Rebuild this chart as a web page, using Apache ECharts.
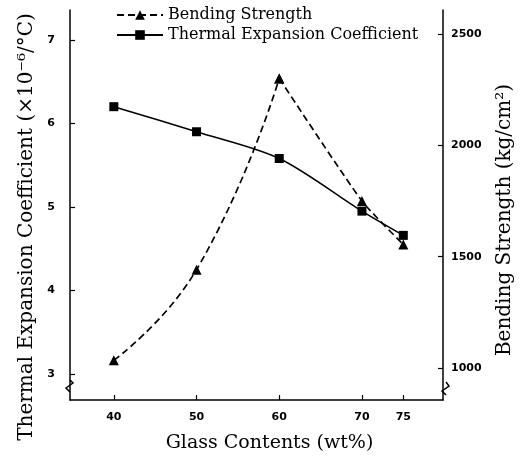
<!DOCTYPE html>
<html>
<head>
<meta charset="utf-8">
<script src="https://cdn.jsdelivr.net/npm/echarts@6/dist/echarts.min.js"></script>
<style>html,body{margin:0;padding:0;background:#fff}#c{width:523px;height:458px}</style>
</head>
<body>
<div id="c"></div>
<script>
// Data
var glassContents = [40, 50, 60, 70, 75];
var thermalExpansion = [6.20, 5.90, 5.58, 4.95, 4.66];
var bendingStrength = [1035, 1442, 2300, 1750, 1555];
var xTickValues = [40, 50, 60, 70, 75];
var leftTickValues = [3, 4, 5, 6, 7];
var rightTickValues = [1000, 1500, 2000, 2500];

var GL = 70, GR = 77, GT = 10, GB = 56;
var serif = '"DejaVu Serif", "Liberation Serif", serif';
var tickFont = {fontFamily: '"DejaVu Sans", sans-serif', fontSize: 11, fontWeight: 'bold', color: '#000'};

function pairs(xs, ys, from, to) {
  var out = [];
  for (var i = from; i <= to; i++) out.push([xs[i], ys[i]]);
  return out;
}

var chart = echarts.init(document.getElementById('c'));
chart.setOption({
  animation: false,
  backgroundColor: '#fff',
  grid: {left: GL, right: GR, top: GT, bottom: GB, containLabel: false},
  legend: {
    orient: 'vertical', left: 111, top: 2,
    itemWidth: 46, itemHeight: 12, itemGap: 4,
    data: ['Bending Strength', 'Thermal Expansion Coefficient'],
    textStyle: {fontFamily: serif, fontSize: 16, color: '#000'}
  },
  xAxis: {
    type: 'value', min: 34.7, max: 79.8,
    name: 'Glass Contents (wt%)', nameLocation: 'middle', nameGap: 34,
    nameTextStyle: {fontFamily: serif, fontSize: 19, color: '#000', padding: [0, 0, 0, 26]},
    axisLine: {lineStyle: {color: '#000', width: 1.5}},
    axisTick: {inside: true, length: 5, customValues: xTickValues, lineStyle: {color: '#000', width: 1.2}},
    axisLabel: {customValues: xTickValues, margin: 12, ...tickFont},
    splitLine: {show: false}
  },
  yAxis: [{
    type: 'value', position: 'left', min: 2.69, max: 7.357,
    name: 'Thermal Expansion Coefficient (×10⁻⁶/°C)', nameLocation: 'middle', nameGap: 30, nameRotate: 90,
    nameTextStyle: {fontFamily: serif, fontSize: 20, color: '#000', padding: [0, 44, 0, 0]},
    axisLine: {show: true, lineStyle: {color: '#000', width: 1.5}},
    axisTick: {show: true, inside: true, length: 5, customValues: leftTickValues, lineStyle: {color: '#000', width: 1.2}},
    axisLabel: {customValues: leftTickValues, margin: 15, ...tickFont},
    splitLine: {show: false}
  }, {
    type: 'value', position: 'right', min: 857, max: 2607,
    name: 'Bending Strength (kg/cm²)', nameLocation: 'middle', nameGap: 52, nameRotate: 90,
    nameTextStyle: {fontFamily: serif, fontSize: 20, color: '#000', padding: [0, 30, 0, 0]},
    axisLine: {show: true, lineStyle: {color: '#000', width: 1.5}},
    axisTick: {show: true, inside: true, length: 5, customValues: rightTickValues, lineStyle: {color: '#000', width: 1.2}},
    axisLabel: {customValues: rightTickValues, margin: 8, formatter: function (v) { return String(v); }, ...tickFont},
    splitLine: {show: false}
  }],
  series: [{
    name: 'Bending Strength', type: 'line', yAxisIndex: 1,
    data: pairs(glassContents, bendingStrength, 0, 2),
    smooth: 0.5, symbol: 'triangle', symbolSize: 10,
    lineStyle: {color: '#000', width: 1.7, type: [7, 4]},
    itemStyle: {color: '#000'}
  }, {
    name: 'Bending Strength', type: 'line', yAxisIndex: 1,
    data: pairs(glassContents, bendingStrength, 2, 4),
    smooth: 0.2, symbol: 'triangle', symbolSize: 10,
    lineStyle: {color: '#000', width: 1.7, type: [7, 4]},
    itemStyle: {color: '#000'}
  }, {
    name: 'Thermal Expansion Coefficient', type: 'line', yAxisIndex: 0,
    data: pairs(glassContents, thermalExpansion, 0, 4),
    smooth: 0.3, symbol: 'rect', symbolSize: 9,
    lineStyle: {color: '#000', width: 1.5},
    itemStyle: {color: '#000'}, z: 3
  }],
  graphic: [{
    type: 'polyline', silent: true,
    shape: {points: [[GL, 458 - GB - 22], [GL + 3, 458 - GB - 19], [GL - 4, 458 - GB - 14], [GL, 458 - GB - 10]]},
    style: {stroke: '#000', lineWidth: 1.5, fill: null}
  }, {
    type: 'polyline', silent: true,
    shape: {points: [[523 - GR, 458 - GB - 20], [523 - GR + 3, 458 - GB - 16], [523 - GR - 4, 458 - GB - 11], [523 - GR, 458 - GB - 7]]},
    style: {stroke: '#000', lineWidth: 1.5, fill: null}
  }]
});
</script>
</body>
</html>
